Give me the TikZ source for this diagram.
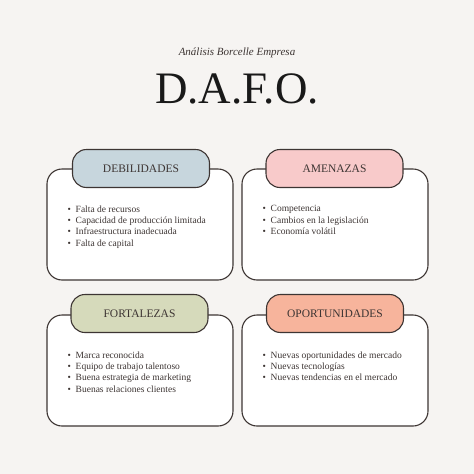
\documentclass[tikz,border=0pt]{standalone}
\usepackage{fontspec}
\setmainfont{Liberation Serif}
\usetikzlibrary{positioning}
\definecolor{bgc}{HTML}{F6F4F2}
\definecolor{edgec}{HTML}{3D3533}
\definecolor{debc}{HTML}{C7D6DD}
\definecolor{amec}{HTML}{F8CACA}
\definecolor{forc}{HTML}{D6DABB}
\definecolor{opoc}{HTML}{F7B49C}
\begin{document}
\begin{tikzpicture}[x=1pt,y=-1pt]
\tikzset{box/.style={draw=edgec,line width=1.1pt,fill=white,rounded corners=15pt,minimum width=186pt,minimum height=111pt,inner sep=0pt}}
\tikzset{tab/.style={draw=edgec,line width=1.1pt,rounded corners=14pt,minimum width=137pt,minimum height=38pt,inner sep=0pt,font=\fontsize{11.5}{13}\selectfont,text=edgec}}
\tikzset{items/.style={align=left,anchor=north west,inner sep=0pt,font=\fontsize{9.5}{11.3}\selectfont,text=edgec}}
% background
\fill[bgc] (0,0) rectangle (474,474);
\useasboundingbox (0,0) rectangle (474,474);

% Title
\node[font=\itshape\fontsize{11}{13}\selectfont,text=edgec] (sub) at (237,53) {Análisis Borcelle Empresa};
\node[font=\fontsize{45}{50}\selectfont,text=black!90] (title) at (237,89) {D.A.F.O.};

% Box 1: debilidades
\node[box] (deb) at (140,224.5) {};
\node[tab,fill=debc] (debt) at (141,168.5) {DEBILIDADES};
\node[items,below right=37pt and 21pt of deb.north west] (debl) {%
\textbullet\ \ Falta de recursos\\
\textbullet\ \ Capacidad de producción limitada\\
\textbullet\ \ Infraestructura inadecuada\\
\textbullet\ \ Falta de capital};

% Box 2: amenazas
\node[box] (ame) at (335,224.5) {};
\node[tab,fill=amec] (amet) at (334.5,168.5) {AMENAZAS};
\node[items,below right=37pt and 21pt of ame.north west] (amel) {%
\textbullet\ \ Competencia\\
\textbullet\ \ Cambios en la legislación\\
\textbullet\ \ Economía volátil};

% Box 3: fortalezas
\node[box] (fort) at (140,370.5) {};
\node[tab,fill=forc] (fortt) at (139.5,313.5) {FORTALEZAS};
\node[items,below right=37pt and 21pt of fort.north west] (fortl) {%
\textbullet\ \ Marca reconocida\\
\textbullet\ \ Equipo de trabajo talentoso\\
\textbullet\ \ Buena estrategia de marketing\\
\textbullet\ \ Buenas relaciones clientes};

% Box 4: oportunidades
\node[box] (opo) at (335,370.5) {};
\node[tab,fill=opoc] (opot) at (335,313.5) {OPORTUNIDADES};
\node[items,below right=37pt and 21pt of opo.north west] (opol) {%
\textbullet\ \ Nuevas oportunidades de mercado\\
\textbullet\ \ Nuevas tecnologías\\
\textbullet\ \ Nuevas tendencias en el mercado};
\end{tikzpicture}
\end{document}
